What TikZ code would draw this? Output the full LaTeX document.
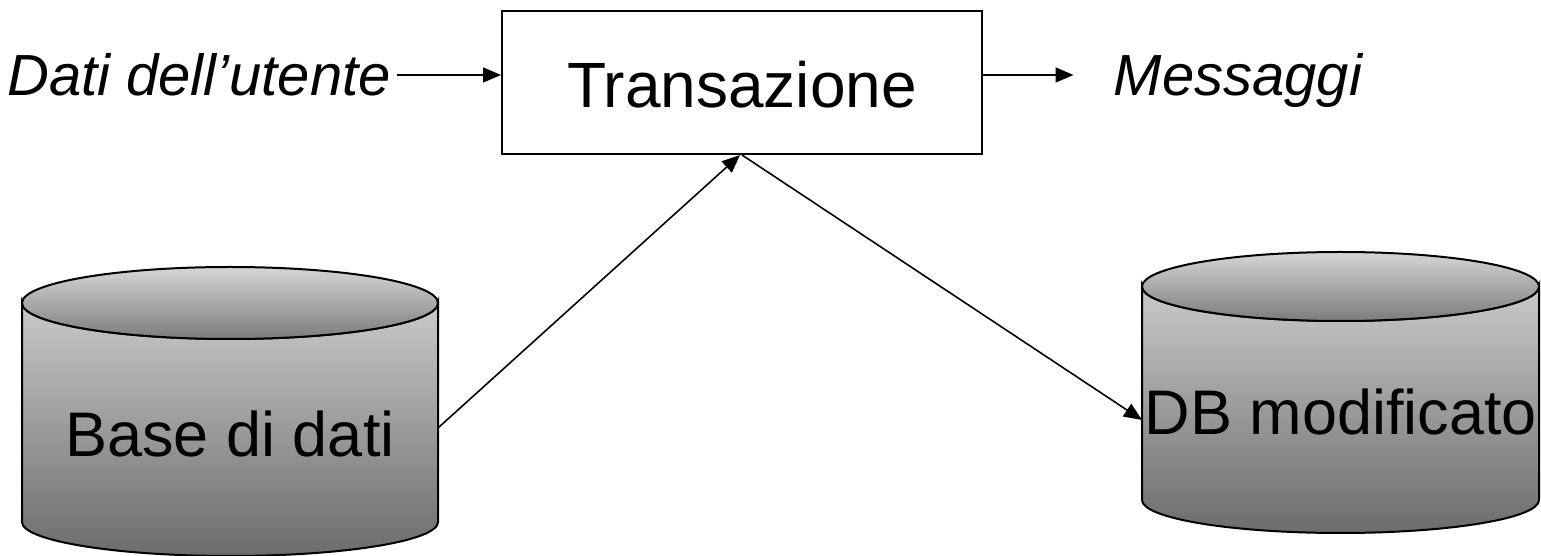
\documentclass[tikz,border=0pt]{standalone}
\usepackage{fontspec}
\setmainfont{Liberation Sans}
\usetikzlibrary{arrows.meta}
\definecolor{bodyTop}{HTML}{C9C9C9}
\definecolor{bodyBot}{HTML}{6C6C6C}
\definecolor{capTop}{HTML}{D6D6D6}
\definecolor{capBot}{HTML}{7C7C7C}
\tikzset{
  arr/.style={line width=0.8pt,-{Triangle[length=9pt,width=7.5pt]}},
  lbl/.style={font=\fontsize{29pt}{34pt}\selectfont\itshape,inner sep=3pt},
  big/.style={font=\fontsize{31.5pt}{37pt}\selectfont},
  cylbody/.style={draw,line width=1pt,top color=bodyTop,bottom color=bodyBot},
  cylcap/.style={draw,line width=1pt,top color=capTop,bottom color=capBot},
}
\begin{document}
\begin{tikzpicture}[x=0.5pt,y=0.5pt]
\useasboundingbox (0,0) rectangle (1541,556);
% left cylinder
\path[cylbody] (22,253) -- (22,34)
  arc[start angle=180,end angle=360,x radius=104pt,y radius=17pt]
  -- (438,253)
  arc[start angle=0,end angle=-180,x radius=104pt,y radius=18pt] -- cycle;
\path[cylcap] (230,253) ellipse[x radius=104pt,y radius=18pt];
% right cylinder
\path[cylbody] (1142,269.5) -- (1142,56)
  arc[start angle=180,end angle=360,x radius=99.25pt,y radius=16.5pt]
  -- (1539,269.5)
  arc[start angle=0,end angle=-180,x radius=99.25pt,y radius=17.25pt] -- cycle;
\path[cylcap] (1340.5,269.5) ellipse[x radius=99.25pt,y radius=17.25pt];
% texts
\node[big,anchor=base] (based) at (230,99) {Base di dati};
\node[big,anchor=base] (dbm) at (1341,121) {DB modificato};
\node[draw,line width=1pt,minimum width=240pt,minimum height=71.5pt,inner sep=0pt] (box) at (742,473.5) {};
\node[big,font=\fontsize{32pt}{38pt}\selectfont,anchor=base] (tr) at (742,448) {Transazione};
\node[lbl,anchor=base] (dati) at (199,460) {Dati dell’utente};
\node[lbl,anchor=base] (msg) at (1238,460) {Messaggi};
% connectors
\coordinate (row) at (0,481);
\coordinate (baseR) at (438,128);
\coordinate (dbL) at (1142,136);
\draw[arr] (dati.east |- row) -- (box.west |- row);
\draw[arr,shorten >=17pt] (box.east |- row) -- (msg.west |- row);
\draw[arr] (baseR) -- ([xshift=-1pt]box.south);
\draw[arr] (box.south) -- (dbL);
\end{tikzpicture}
\end{document}
